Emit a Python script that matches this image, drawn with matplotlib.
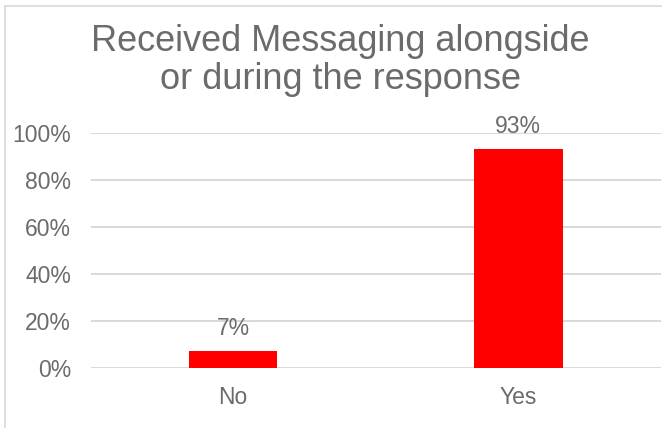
import matplotlib.pyplot as plt
from matplotlib.lines import Line2D

plt.rcParams['font.family'] = ['Liberation Sans', 'DejaVu Sans']

categories = ['No', 'Yes']
shares = [7, 93]
y_ticks = [0, 20, 40, 60, 80, 100]
y_labels = ['0%', '20%', '40%', '60%', '80%', '100%']
title_lines = ['Received Messaging alongside', 'or during the response']

grey = '#6b6b6b'
grid_grey = '#d9d9d9'

fig = plt.figure(figsize=(6.62, 4.28), dpi=100)
ax = fig.add_axes([90.5 / 662, 60.3 / 428, 570.5 / 662, 235 / 428])

x = range(len(categories))
bars = ax.bar(x, shares, width=0.31, color='#ff0000', zorder=3)
for rect, v in zip(bars, shares):
    ax.annotate(f'{v}%', (rect.get_x() + rect.get_width() / 2, v),
                xytext=(0, 8), textcoords='offset points',
                ha='center', va='bottom', fontsize=16.5, color=grey)

ax.set_xlim(-0.5, 1.5)
ax.set_ylim(0, 100)
ax.set_xticks(list(x))
ax.set_xticklabels(categories)
ax.set_yticks(y_ticks)
ax.set_yticklabels(y_labels)
ax.tick_params(axis='both', length=0, labelsize=16.5, labelcolor=grey)
ax.tick_params(axis='y', pad=14)
ax.tick_params(axis='x', pad=13)
ax.grid(axis='y', color=grid_grey, linewidth=1.4, zorder=0)
for s in ax.spines.values():
    s.set_visible(False)

# two-line title, each line placed on its own baseline
for line, base in zip(title_lines, [51, 89]):
    fig.text(340 / 662, 1 - base / 428, line, ha='center', va='baseline',
             fontsize=26, color=grey)

# light frame on the top and left edges
fig.add_artist(Line2D([5 / 662, 5 / 662], [0, 1 - 6 / 428], color=grid_grey, linewidth=1.2))
fig.add_artist(Line2D([5 / 662, 1], [1 - 6 / 428, 1 - 6 / 428], color=grid_grey, linewidth=1.2))

fig.savefig('out.png', dpi=100)
